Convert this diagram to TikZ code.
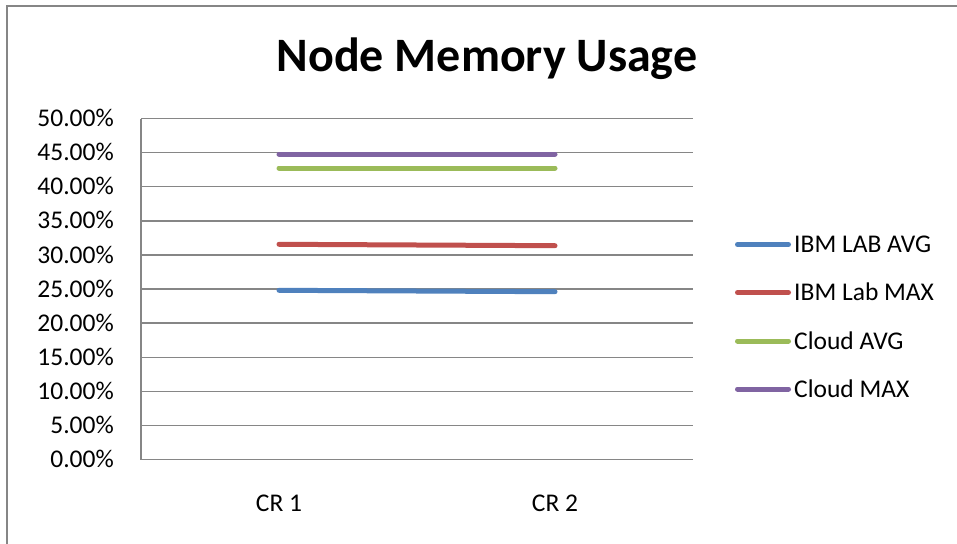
\documentclass[tikz,border=0pt]{standalone}
\usepackage{fontspec}
\setmainfont{Carlito}
\usepackage{tikz}
\usetikzlibrary{positioning}

\definecolor{gridgray}{HTML}{868686}
\definecolor{labavg}{HTML}{4F81BD}
\definecolor{labmax}{HTML}{C0504D}
\definecolor{cloudavg}{HTML}{9BBB59}
\definecolor{cloudmax}{HTML}{8064A2}

\begin{document}
\begin{tikzpicture}
		[
		x = 1pt, y = -1pt,
		frame/.style = {draw = gridgray, line width = 1.6pt},
		grid line/.style = {draw = gridgray, line width = 1.4pt},
		series/.style = {line width = 5pt, line cap = round},
		ylabel/.style = {anchor = base east, inner sep = 0pt, font = \fontsize{25.5}{30}\selectfont},
		xlabel/.style = {anchor = base, inner sep = 0pt, font = \fontsize{25.5}{30}\selectfont},
		legend/.style = {anchor = base west, inner sep = 0pt, font = \fontsize{25.5}{30}\selectfont},
		]
		
		\useasboundingbox (0,0) rectangle (957,543);
		
		% outer frame
		\draw[frame] (7,560) -- (7,6) -- (970,6);
		
		% title
		\node[anchor = base, inner sep = 0pt, font = \fontsize{48}{56}\selectfont\bfseries] (title) at (487,71) {Node Memory Usage};
		
		% grid
		\draw[grid line] (141,118.5) -- (693,118.5);
		\draw[grid line] (141,152.6) -- (693,152.6);
		\draw[grid line] (141,186.7) -- (693,186.7);
		\draw[grid line] (141,220.8) -- (693,220.8);
		\draw[grid line] (141,254.9) -- (693,254.9);
		\draw[grid line] (141,289.0) -- (693,289.0);
		\draw[grid line] (141,323.1) -- (693,323.1);
		\draw[grid line] (141,357.2) -- (693,357.2);
		\draw[grid line] (141,391.3) -- (693,391.3);
		\draw[grid line] (141,425.4) -- (693,425.4);
		\draw[grid line] (141,459.5) -- (693,459.5);
		\draw[grid line] (141,118.5) -- (141,459.5);
		
		% value axis
		\node[ylabel] (y50) at (114,126.6) {50.00\%};
		\node[ylabel] (y45) at (114,160.7) {45.00\%};
		\node[ylabel] (y40) at (114,194.8) {40.00\%};
		\node[ylabel] (y35) at (114,228.9) {35.00\%};
		\node[ylabel] (y30) at (114,263.0) {30.00\%};
		\node[ylabel] (y25) at (114,297.1) {25.00\%};
		\node[ylabel] (y20) at (114,331.2) {20.00\%};
		\node[ylabel] (y15) at (114,365.3) {15.00\%};
		\node[ylabel] (y10) at (114,399.4) {10.00\%};
		\node[ylabel] (y05) at (114,433.5) {5.00\%};
		\node[ylabel] (y00) at (114,467.6) {0.00\%};
		
		% category axis
		\node[xlabel] (cr1) at (279,511.5) {CR 1};
		\node[xlabel] (cr2) at (555,511.5) {CR 2};
		
		% series
		\coordinate (avg1) at (279,290.3);
		\coordinate (avg2) at (555,291.7);
		\coordinate (max1) at (279,244.3);
		\coordinate (max2) at (555,245.7);
		\coordinate (cavg1) at (279,168.0);
		\coordinate (cavg2) at (555,168.0);
		\coordinate (cmax1) at (279,154.0);
		\coordinate (cmax2) at (555,154.0);
		\draw[series, labavg] (avg1) -- (avg2);
		\draw[series, labmax] (max1) -- (max2);
		\draw[series, cloudavg] (cavg1) -- (cavg2);
		\draw[series, cloudmax] (cmax1) -- (cmax2);
		
		% legend
		\node[legend] (lavg) at (794,252.5) {IBM LAB AVG};
		\node[legend] (lmax) at (794,300.5) {IBM Lab MAX};
		\node[legend] (lcavg) at (794,349) {Cloud AVG};
		\node[legend] (lcmax) at (794,397) {Cloud MAX};
		\coordinate (kavg) at (737.5,244.5);
		\coordinate (kmax) at (737.5,292.5);
		\coordinate (kcavg) at (737.5,341);
		\coordinate (kcmax) at (737.5,389);
		\draw[series, labavg, shorten > = 5.5pt] (kavg) -- (kavg -| lavg.west);
		\draw[series, labmax, shorten > = 5.5pt] (kmax) -- (kmax -| lmax.west);
		\draw[series, cloudavg, shorten > = 5.5pt] (kcavg) -- (kcavg -| lcavg.west);
		\draw[series, cloudmax, shorten > = 5.5pt] (kcmax) -- (kcmax -| lcmax.west);
		
		\end{tikzpicture}
\end{document}
